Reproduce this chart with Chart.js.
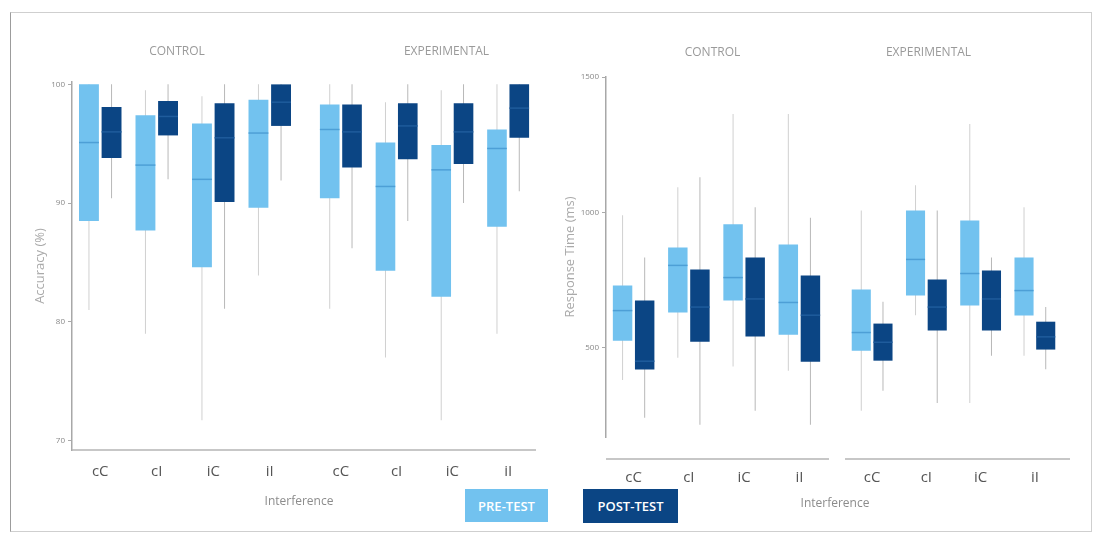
<!DOCTYPE html>
<html>
<head>
<meta charset="utf-8">
<script src="https://cdn.jsdelivr.net/npm/chart.js@4.4.1/dist/chart.umd.min.js"></script>
<style>
  body { margin:0; background:#fff; width:1096px; height:540px; position:relative; overflow:hidden; font-family:'Open Sans', sans-serif; }
  .frame { position:absolute; left:10px; top:12px; width:1080px; height:518px; border:1.5px solid #cfcfcf; border-left-color:#9c9c9c; }
  canvas { position:absolute; top:30px; }
  .xt { position:absolute; color:#8c8c8c; font-size:12px; transform:translateX(-50%); white-space:nowrap; }
  .lg { position:absolute; top:489px; color:#fff; font-size:13px; font-weight:600; display:flex; align-items:center; justify-content:center; }
</style>
</head>
<body>
<div class="frame"></div>
<canvas id="accA" width="293" height="500" style="left:12px"></canvas>
<canvas id="accB" width="240" height="500" style="left:305px"></canvas>
<canvas id="rtA" width="287" height="500" style="left:545px"></canvas>
<canvas id="rtB" width="258" height="500" style="left:832px"></canvas>
<div class="xt" style="left:299px;top:492px">Interference</div>
<div class="xt" style="left:835px;top:494px">Interference</div>
<div class="lg" style="left:465px;width:83px;height:33px;background:#72c2ef">PRE-TEST</div>
<div class="lg" style="left:583px;width:95px;height:34px;background:#0b4584">POST-TEST</div>
<script>
const conds = ['cC', 'cI', 'iC', 'iI'];
const groups = ['CONTROL', 'EXPERIMENTAL'];
const accTicks = [70, 80, 90, 100];
const rtTicks = [500, 1000, 1500];

// one row per condition: [min, q1, median, q3, max]
const accCtrlPre  = [[81, 88.5, 95.1, 100, 100], [79, 87.7, 93.2, 97.4, 99.5], [71.7, 84.6, 92.0, 96.7, 99], [83.9, 89.6, 95.9, 98.7, 100]];
const accCtrlPost = [[90.4, 93.8, 96.0, 98.1, 100], [92, 95.7, 97.3, 98.6, 100], [81.1, 90.1, 95.5, 98.4, 100], [91.9, 96.5, 98.5, 100, 100]];
const accExpPre   = [[81.1, 90.4, 96.2, 98.3, 100], [77.0, 84.3, 91.4, 95.1, 98.5], [71.7, 82.1, 92.8, 94.9, 99.5], [79.0, 88.0, 94.6, 96.2, 100]];
const accExpPost  = [[86.2, 93.0, 96.0, 98.3, 100], [88.5, 93.7, 96.5, 98.4, 100], [90, 93.3, 96.0, 98.4, 100], [91, 95.5, 98.0, 100, 100]];

const rtCtrlPre  = [[381, 526, 637, 730, 989], [463, 630, 804, 870, 1093], [430, 674, 759, 956, 1363], [415, 548, 667, 881, 1363]];
const rtCtrlPost = [[241, 419, 450, 674, 833], [215, 522, 650, 789, 1130], [267, 541, 680, 833, 1019], [215, 448, 620, 767, 980]];
const rtExpPre   = [[267, 489, 556, 715, 1007], [620, 693, 826, 1007, 1100], [296, 656, 774, 970, 1326], [470, 619, 711, 833, 1019]];
const rtExpPost  = [[341, 452, 520, 589, 670], [296, 563, 650, 752, 1007], [470, 563, 680, 785, 833], [420, 493, 540, 596, 650]];

const PRE = '#72c2ef', POST = '#0b4584';
const F = "'Open Sans', sans-serif";

function medians(pre, post) {
  return { id: 'medians', afterDatasetsDraw(chart) {
    const ctx = chart.ctx, y = chart.scales.y;
    [[pre, '#4d9fd6'], [post, '#1f5c9c']].forEach(([rows, col], di) => {
      ctx.save(); ctx.strokeStyle = col; ctx.lineWidth = 1.5;
      chart.getDatasetMeta(di).data.forEach((bar, i) => {
        const py = y.getPixelForValue(rows[i][2]);
        ctx.beginPath(); ctx.moveTo(bar.x - bar.width / 2, py); ctx.lineTo(bar.x + bar.width / 2, py); ctx.stroke();
      });
      ctx.restore();
    });
  }};
}

function baseline(b) {
  return { id: 'baseline', afterDraw(chart) {
    const {ctx, chartArea: a} = chart;
    const y = a.bottom + b.dy;
    ctx.save(); ctx.strokeStyle = '#b5b5b5'; ctx.lineWidth = 1.5;
    ctx.beginPath(); ctx.moveTo(a.left - b.l, y); ctx.lineTo(a.right + b.r, y); ctx.stroke();
    ctx.restore();
  }};
}

function facet(id, title, pre, post, o) {
  const box = a => a.map(s => [s[1], s[3]]);
  const whisk = a => a.map(s => [s[0], s[4]]);
  const bar = { categoryPercentage: 0.8, barPercentage: 0.88, borderWidth: 0 };
  return new Chart(document.getElementById(id), {
    type: 'bar',
    data: { labels: conds, datasets: [
      { ...bar, data: box(pre), backgroundColor: PRE, stack: 'pre' },
      { ...bar, data: box(post), backgroundColor: POST, stack: 'post' },
      { ...bar, data: whisk(pre), backgroundColor: '#d0d0d0', stack: 'pre', maxBarThickness: 1 },
      { ...bar, data: whisk(post), backgroundColor: '#b8b8b8', stack: 'post', maxBarThickness: 1 }
    ]},
    options: {
      responsive: false, animation: false,
      layout: { padding: o.pad },
      plugins: { legend: { display: false }, tooltip: { enabled: false } },
      scales: {
        x: { stacked: true, offset: true, grid: { display: false }, border: { display: false },
             ticks: { color: '#555', font: { family: F, size: 15 }, padding: o.xPad },
             afterFit: s => { s.height = o.xH; } },
        xg: { type: 'category', labels: [title], position: 'top', offset: true,
              grid: { display: false }, border: { display: false },
              ticks: { color: '#9a9a9a', font: { family: F, size: 12 }, padding: o.gPad, labelOffset: o.gShift },
              afterFit: s => { s.height = o.gH; } },
        y: { display: o.showY, stacked: false, min: o.min, max: o.max,
             afterBuildTicks: s => { s.ticks = o.ticks.map(v => ({ value: v })); },
             border: { color: '#a8a8a8', width: 1.5 },
             grid: { drawOnChartArea: false, tickLength: 4, color: '#aaa' },
             ticks: { color: '#888', font: { family: F, size: 8 }, padding: 3, callback: v => String(v) },
             title: { display: true, text: o.yTitle, color: '#aaa', font: { family: F, size: 13 }, padding: { top: o.yTitlePad } },
             afterFit: s => { s.width = o.yW; } }
      }
    },
    plugins: [medians(pre, post), baseline(o.base)]
  });
}

const accOpt = { min: 69.2, max: 100.2, ticks: accTicks, yTitle: 'Accuracy (%)', yTitlePad: 20, xH: 80, xPad: 5, gH: 52, gPad: 15 };
const rtOpt = { min: 170, max: 1500, ticks: rtTicks, yTitle: 'Response Time (ms)', yTitlePad: 17, xH: 93, xPad: 24, gH: 47, gPad: 9 };

facet('accA', groups[0], accCtrlPre, accCtrlPost, { ...accOpt, showY: true, yW: 60, pad: { right: 7 }, gShift: -8, base: { dy: 0, l: 0, r: 7 } });
facet('accB', groups[1], accExpPre, accExpPost, { ...accOpt, showY: false, yW: 0, pad: { left: 8, right: 9 }, gShift: 22, base: { dy: 0, l: 8, r: 0 } });
facet('rtA', groups[0], rtCtrlPre, rtCtrlPost, { ...rtOpt, showY: true, yW: 61, pad: { right: 5 }, gShift: -4, base: { dy: 22, l: 0, r: 2 } });
facet('rtB', groups[1], rtExpPre, rtExpPost, { ...rtOpt, showY: false, yW: 0, pad: { left: 13, right: 28 }, gShift: -25, base: { dy: 22, l: 0, r: 8 } });
</script>
</body>
</html>
